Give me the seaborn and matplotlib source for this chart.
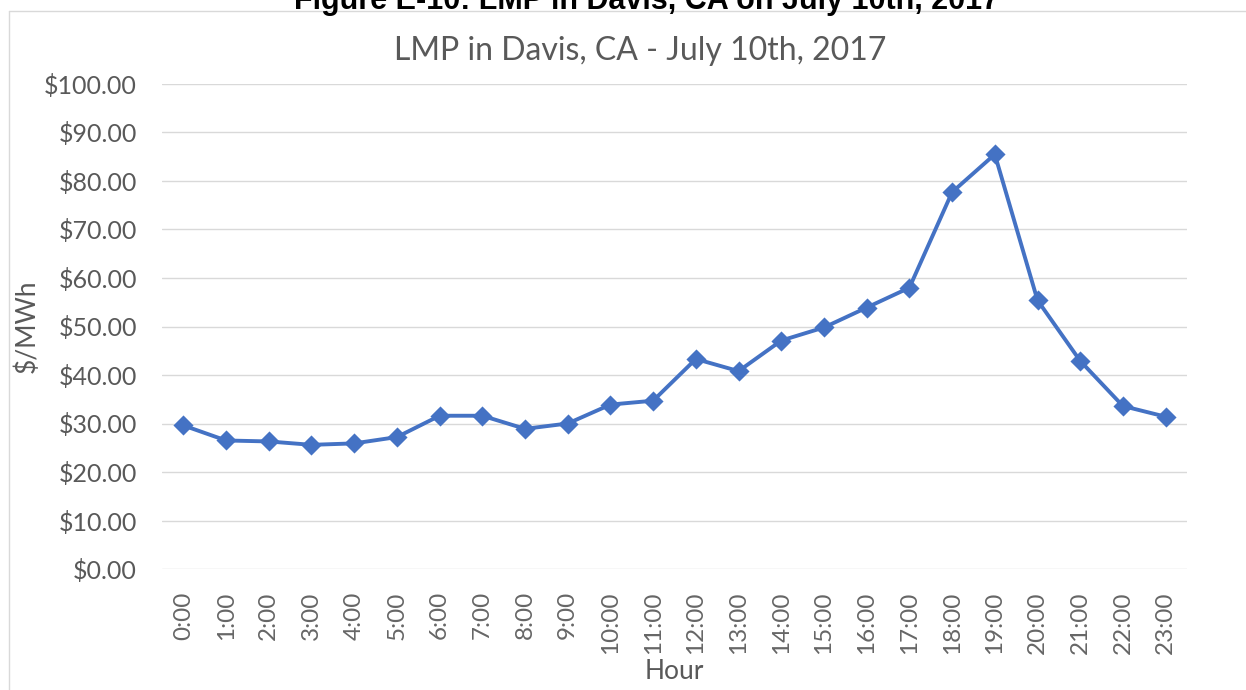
import pandas as pd
import seaborn as sns
import matplotlib.pyplot as plt
from matplotlib.lines import Line2D

hours = [f"{h}:00" for h in range(24)]
lmp = [29.6, 26.5, 26.3, 25.6, 25.9, 27.2, 31.6, 31.6, 28.9, 30.0,
       33.9, 34.7, 43.3, 40.8, 47.1, 49.8, 53.9, 58.0, 77.7, 85.5,
       55.4, 42.9, 33.6, 31.4]
y_ticks = [0, 10, 20, 30, 40, 50, 60, 70, 80, 90, 100]

df = pd.DataFrame({"hour": hours, "lmp": lmp})

sns.set_theme(style="white")
plt.rcParams["font.family"] = ["Lato", "DejaVu Sans"]

fig = plt.figure(figsize=(12.46, 6.90), dpi=100)
ax = fig.add_axes([162 / 1246, 1 - 569 / 690, 1025 / 1246, 485 / 690])

sns.pointplot(
    data=df,
    x="hour",
    y="lmp",
    color="#4472C4",
    markers="D",
    markersize=8,
    linewidth=2.8,
    ax=ax
)

ax.set_xlim(-0.5, 23.5)
ax.set_ylim(0, 100)
ax.set_yticks(y_ticks)
ax.set_yticklabels([f"${v:.2f}" for v in y_ticks])
ax.set_xticks(range(len(hours)))
ax.set_xticklabels(hours, rotation=90)
ax.grid(axis="y", color="#D9D9D9", linewidth=1)
ax.set_axisbelow(True)
for s in ax.spines.values():
    s.set_visible(False)
ax.tick_params(axis="y", colors="#595959", labelsize=18, length=0, pad=18)
ax.tick_params(axis="x", colors="#666666", labelsize=17.5, length=0, pad=16)

ax.set_xlabel("Hour", size=19, color="#595959", labelpad=4)
ax.set_ylabel("$/MWh", size=19, color="#595959", labelpad=3)
ax.set_title("LMP in Davis, CA - July 10th, 2017", size=23, color="#595959",
             pad=17, x=0.467)

# outer chart frame and cropped figure caption
fig.add_artist(Line2D([9 / 1246, 9 / 1246], [0, 1 - 11 / 690], color="#D9D9D9", lw=1))
fig.add_artist(Line2D([9 / 1246, 1], [1 - 11 / 690, 1 - 11 / 690], color="#D9D9D9", lw=1))
fig.text(647 / 1246, 1 - 9.5 / 690, "Figure E-10: LMP in Davis, CA on July 10th, 2017",
         ha="center", va="baseline", size=22, weight="bold",
         family="Liberation Sans", color="black")

fig.savefig("out.png", dpi=100)
